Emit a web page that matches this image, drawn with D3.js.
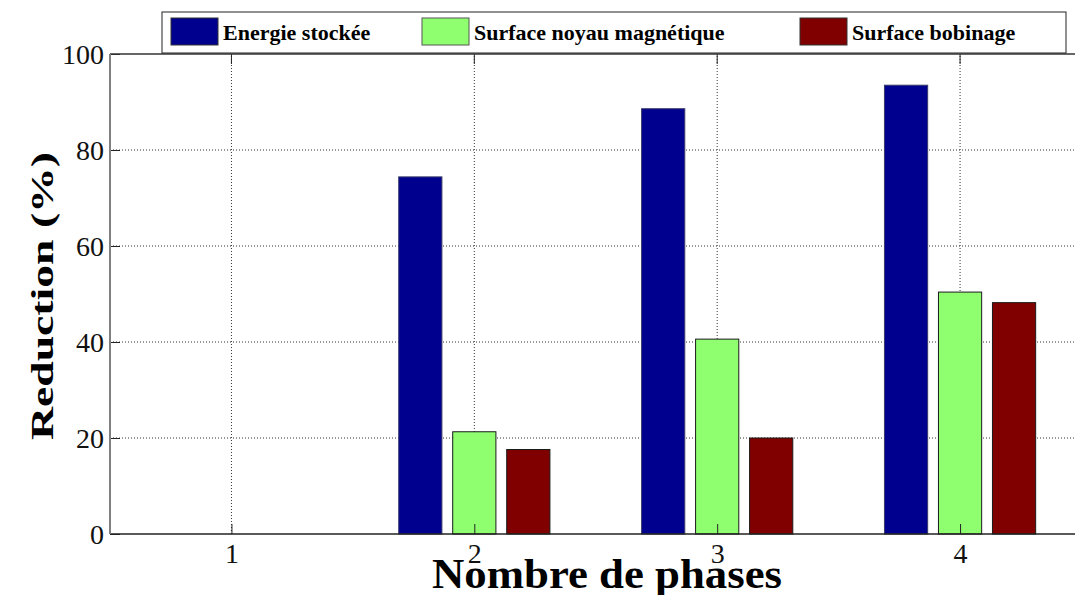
<!DOCTYPE html>
<html>
<head>
<meta charset="utf-8">
<script src="https://cdn.jsdelivr.net/npm/d3@7"></script>
<style>
  html, body { margin: 0; padding: 0; background: #fff; }
  svg { display: block; }
  text { font-family: "Liberation Serif", "Times New Roman", serif; }
</style>
</head>
<body>
<svg id="chart" width="1075" height="595"></svg>
<script>
// Number of phases on the x axis
const phases = [1, 2, 3, 4];
// Reduction (%) per series
const energieStockee = [0, 74.4, 88.6, 93.5];
const surfaceNoyau = [0, 21.3, 40.6, 50.4];
const surfaceBobinage = [0, 17.6, 20.0, 48.2];
const seriesNames = ["Energie stockée", "Surface noyau magnétique", "Surface bobinage"];
const seriesColors = ["#00008f", "#8fff70", "#800000"];
const yTicks = [0, 20, 40, 60, 80, 100];

const series = [energieStockee, surfaceNoyau, surfaceBobinage];

const svg = d3.select("#chart");
svg.append("rect").attr("width", 1075).attr("height", 595).attr("fill", "#fff");

const x = d3.scaleLinear().domain([0.5, 4.5]).range([110, 1081.5]);
const y = d3.scaleLinear().domain([0, 100]).range([534, 54]);

const plot = svg.append("g");

// dotted grid
plot.append("g").selectAll("line").data(yTicks.filter(d => d > 0 && d < 100)).join("line")
  .attr("x1", x.range()[0]).attr("x2", 1075)
  .attr("y1", d => y(d)).attr("y2", d => y(d))
  .attr("stroke", "#333").attr("stroke-width", 1).attr("stroke-dasharray", "1,2");
plot.append("g").selectAll("line").data(phases).join("line")
  .attr("x1", d => x(d)).attr("x2", d => x(d))
  .attr("y1", y(0)).attr("y2", y(100))
  .attr("stroke", "#333").attr("stroke-width", 1).attr("stroke-dasharray", "1,2");

// grouped bars
const groupWidth = 0.667;
const slot = groupWidth / series.length;
const barW = slot * 0.8;
series.forEach((vals, si) => {
  const off = (si - (series.length - 1) / 2) * slot;
  plot.append("g").selectAll("rect").data(vals.map((v, i) => ({ p: phases[i], v })))
    .join("rect")
    .attr("x", d => x(d.p + off - barW / 2))
    .attr("width", d => x(d.p + off + barW / 2) - x(d.p + off - barW / 2))
    .attr("y", d => y(d.v))
    .attr("height", d => y(0) - y(d.v))
    .attr("fill", seriesColors[si])
    .attr("stroke", si === 0 ? "#3a3a6a" : "#1a1a1a")
    .attr("stroke-width", 1);
});

// axes
const yAxis = d3.axisLeft(y).tickValues(yTicks).tickSize(-10).tickPadding(6).tickFormat(d3.format("d"));
const gy = svg.append("g").attr("transform", `translate(${x.range()[0]},0)`).call(yAxis);
gy.select(".domain").remove();
gy.selectAll(".tick line").attr("stroke", "#222");
gy.selectAll(".tick text").attr("font-size", 28).attr("fill", "#111")
  .style("font-family", "'Liberation Serif', serif").attr("dy", "0.34em");

const xAxis = d3.axisBottom(x).tickValues(phases).tickSize(-10).tickPadding(9).tickFormat(d3.format("d"));
const gx = svg.append("g").attr("transform", `translate(0,${y(0)})`).call(xAxis);
gx.select(".domain").remove();
gx.selectAll(".tick line").attr("stroke", "#222");
gx.selectAll(".tick text").attr("font-size", 28).attr("fill", "#111")
  .style("font-family", "'Liberation Serif', serif");

// top ticks
svg.append("g").selectAll("line").data(phases).join("line")
  .attr("x1", d => x(d)).attr("x2", d => x(d))
  .attr("y1", y(100)).attr("y2", y(100) + 10)
  .attr("stroke", "#222");

// axes box edges
svg.append("line").attr("x1", x.range()[0]).attr("x2", 1075).attr("y1", y(0)).attr("y2", y(0))
  .attr("stroke", "#222").attr("stroke-width", 1.5);
svg.append("line").attr("x1", x.range()[0]).attr("x2", 1075).attr("y1", y(100)).attr("y2", y(100))
  .attr("stroke", "#333").attr("stroke-width", 1.5);
svg.append("line").attr("x1", x.range()[0]).attr("x2", x.range()[0]).attr("y1", y(100)).attr("y2", y(0))
  .attr("stroke", "#808080").attr("stroke-width", 2);

// axis titles
svg.append("text")
  .attr("x", 607).attr("y", 588)
  .attr("text-anchor", "middle")
  .attr("font-size", 42).attr("font-weight", "bold").attr("fill", "#000")
  .attr("textLength", 350).attr("lengthAdjust", "spacingAndGlyphs")
  .text("Nombre de phases");

svg.append("text")
  .attr("transform", "translate(53,296) rotate(-90)")
  .attr("text-anchor", "middle")
  .attr("font-size", 31).attr("font-weight", "bold").attr("fill", "#000")
  .attr("textLength", 288).attr("lengthAdjust", "spacingAndGlyphs")
  .text("Reduction (%)");

// legend
const legend = svg.append("g");
legend.append("rect")
  .attr("x", 162).attr("y", 12).attr("width", 904).attr("height", 41)
  .attr("fill", "#fff").attr("stroke", "#222").attr("stroke-width", 1);
const legendX = [171, 422, 800];
seriesNames.forEach((name, i) => {
  legend.append("rect")
    .attr("x", legendX[i]).attr("y", 18).attr("width", 47).attr("height", 27)
    .attr("fill", seriesColors[i])
    .attr("stroke", i === 1 ? "#555" : "#333").attr("stroke-width", 1);
  legend.append("text")
    .attr("x", legendX[i] + 52).attr("y", 40)
    .attr("font-size", 22).attr("font-weight", "bold").attr("fill", "#000")
    .text(name);
});
</script>
</body>
</html>
